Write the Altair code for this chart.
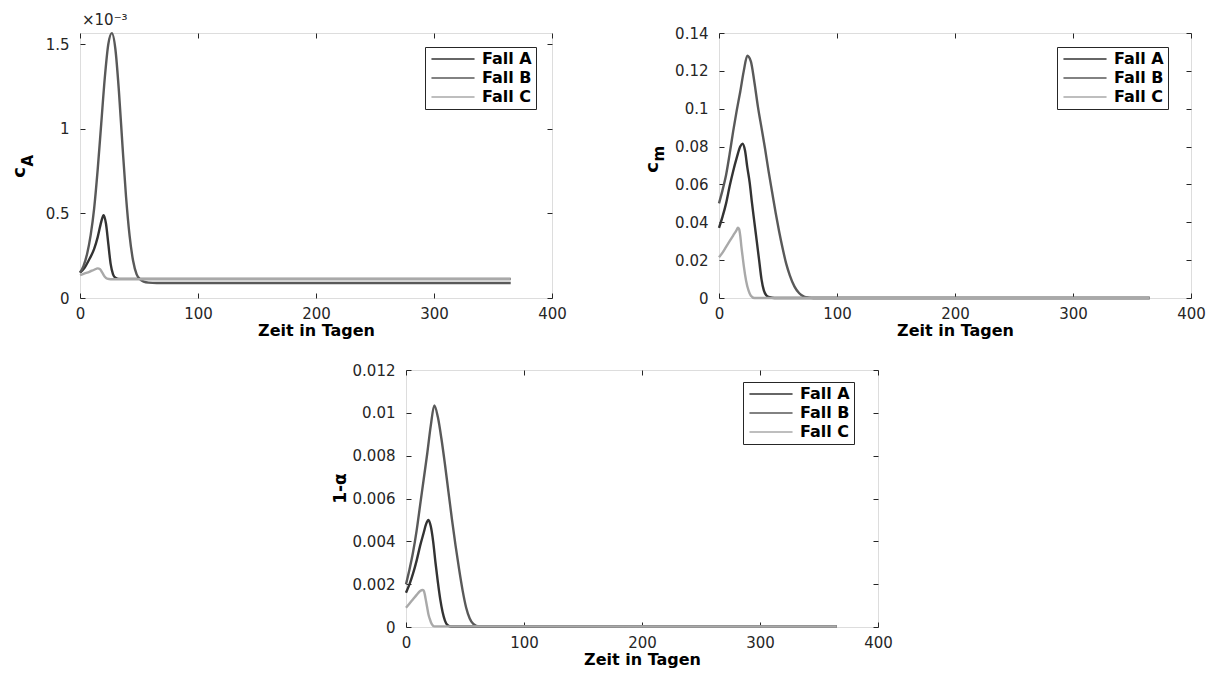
import altair as alt
import pandas as pd

# ---------------- data ----------------
CASES = ["Fall A", "Fall B", "Fall C"]
COLORS = ["#333333", "#595959", "#a9a9a9"]
X_TICKS = [0, 100, 200, 300, 400]

# Panel 1: c_A (values in units of 10^-3)
cA_ticks = [0, 0.5, 1, 1.5]
cA_A_t = [0, 4, 8, 12, 15, 18, 20, 22, 24, 26, 28, 30, 33, 40, 365]
cA_A_v = [0.15, 0.18, 0.23, 0.29, 0.36, 0.45, 0.49, 0.44, 0.32, 0.20, 0.14, 0.12, 0.113, 0.113, 0.113]
cA_B_t = [0, 3, 6, 9, 12, 15, 18, 21, 24, 27, 30, 33, 36, 39, 42, 45, 48, 51, 54, 58, 65, 365]
cA_B_v = [0.15, 0.19, 0.26, 0.37, 0.53, 0.76, 1.03, 1.30, 1.50, 1.565, 1.47, 1.22, 0.90, 0.60, 0.37,
          0.22, 0.14, 0.11, 0.097, 0.091, 0.089, 0.089]
cA_C_t = [0, 4, 8, 12, 15, 17, 19, 21, 23, 26, 365]
cA_C_v = [0.135, 0.145, 0.155, 0.167, 0.175, 0.17, 0.148, 0.125, 0.114, 0.111, 0.111]

# Panel 2: c_m
cm_ticks = [0, 0.02, 0.04, 0.06, 0.08, 0.1, 0.12, 0.14]
cm_A_t = [0, 3, 6, 9, 12, 15, 18, 20, 22, 24, 26, 28, 30, 32, 34, 36, 38, 40, 43, 47, 365]
cm_A_v = [0.037, 0.043, 0.050, 0.059, 0.067, 0.074, 0.080, 0.0815, 0.078, 0.069, 0.061, 0.050, 0.040,
          0.030, 0.020, 0.010, 0.004, 0.0015, 0.0004, 0, 0]
cm_B_t = [0, 3, 6, 9, 12, 15, 18, 21, 24, 27, 30, 33, 36, 39, 42, 45, 48, 51, 54, 57, 60, 64, 68, 72,
          76, 80, 365]
cm_B_v = [0.050, 0.057, 0.065, 0.076, 0.088, 0.099, 0.109, 0.120, 0.128, 0.125, 0.114, 0.101, 0.090,
          0.079, 0.067, 0.056, 0.045, 0.035, 0.026, 0.018, 0.012, 0.006, 0.0025, 0.0008, 0.0002, 0, 0]
cm_C_t = [0, 3, 6, 9, 12, 15, 16, 17, 18, 19, 20, 21, 23, 25, 27, 30, 365]
cm_C_v = [0.0215, 0.024, 0.027, 0.030, 0.033, 0.036, 0.0372, 0.0365, 0.033, 0.027, 0.022, 0.017,
          0.009, 0.004, 0.0012, 0, 0]

# Panel 3: 1-alpha
al_ticks = [0, 0.002, 0.004, 0.006, 0.008, 0.01, 0.012]
al_A_t = [0, 3, 6, 9, 12, 15, 17, 19, 21, 23, 25, 27, 29, 31, 33, 35, 38, 365]
al_A_v = [0.0016, 0.0020, 0.0025, 0.0031, 0.0038, 0.0044, 0.0048, 0.0050, 0.0047, 0.0040, 0.0030,
          0.0021, 0.0013, 0.0007, 0.0003, 0.0001, 0.00002, 0.00002]
al_B_t = [0, 3, 6, 9, 12, 15, 18, 21, 24, 27, 30, 33, 36, 39, 42, 45, 48, 51, 54, 57, 62, 365]
al_B_v = [0.0020, 0.0027, 0.0035, 0.0045, 0.0057, 0.0069, 0.0081, 0.0094, 0.01035, 0.0098, 0.0088,
          0.0076, 0.0063, 0.0050, 0.0038, 0.0027, 0.0017, 0.0009, 0.0004, 0.00015, 0.00003, 0.00003]
al_C_t = [0, 3, 6, 9, 12, 14, 15, 16, 17, 18, 19, 20, 22, 24, 365]
al_C_v = [0.0009, 0.0011, 0.0013, 0.0015, 0.00168, 0.00173, 0.0017, 0.0015, 0.0012, 0.0009, 0.0006,
          0.0004, 0.00012, 0.00003, 0.00002]

# ---------------- helpers ----------------
FONT = "DejaVu Sans"
W = 472
H1, H3 = 265, 257
ONE = pd.DataFrame({"k": [0]})
LABEL_STYLE = dict(labelFont=FONT, labelFontSize=15, labelColor="#262626", labelFlush=False,
                   tickColor="#262626", tickWidth=1, tickSize=5, offset=-5, domain=False, grid=False)


def build_df(ts_list, vs_list):
    rows = []
    for case, ts, vs in zip(CASES, ts_list, vs_list):
        for t, v in zip(ts, vs):
            rows.append({"t": t, "v": v, "case": case})
    return pd.DataFrame(rows)


def legend(lx, ly):
    return alt.Legend(
        title=None, orient="none", legendX=lx, legendY=ly, padding=4,
        strokeColor="#262626", fillColor="white", cornerRadius=0, rowPadding=3,
        symbolType="M-4,0H4", symbolSize=116, symbolStrokeWidth=1.5,
        symbolOffset=16, labelOffset=21,
        labelFont=FONT, labelFontSize=16, labelFontWeight="bold", labelColor="black",
    )


def title_text(text, size, x, y, align="center"):
    return alt.Chart(ONE).mark_text(
        text=text, angle=270, font=FONT, fontSize=size, fontWeight="bold",
        align=align, baseline="alphabetic", color="black",
    ).encode(x=alt.value(x), y=alt.value(y))


def panel(df, h, ydom, yticks, marks, lx, ly, top_title=None):
    xs = alt.Scale(domain=[0, 400], nice=False)
    ys = alt.Scale(domain=ydom, nice=False, zero=True)
    lines = alt.Chart(df).mark_line(strokeWidth=2.4, interpolate="monotone").encode(
        x=alt.X("t:Q", scale=xs, axis=alt.Axis(
            values=X_TICKS, title="Zeit in Tagen", labelPadding=8, titlePadding=1,
            titleFont=FONT, titleFontSize=16, titleFontWeight="bold", titleColor="black",
            **LABEL_STYLE)),
        y=alt.Y("v:Q", scale=ys, axis=alt.Axis(
            values=yticks, format="~g", title=None, labelPadding=11, **LABEL_STYLE)),
        color=alt.Color("case:N", scale=alt.Scale(domain=CASES, range=COLORS), legend=legend(lx, ly)),
    )
    ghost = alt.Chart(df).mark_line(strokeOpacity=0).encode(
        x=alt.X("t:Q", axis=alt.Axis(orient="top", values=X_TICKS, labels=False, title=None,
                                     **LABEL_STYLE)),
        y=alt.Y("v:Q", axis=alt.Axis(orient="right", values=yticks, labels=False, title=None,
                                     **LABEL_STYLE)),
        detail="case:N",
    )
    layered = alt.layer(lines, ghost, *marks).resolve_axis(x="independent", y="independent")
    if top_title is not None:
        return layered.properties(
            width=W, height=h,
            title=alt.TitleParams(top_title, anchor="start", frame="group", dx=2, offset=0,
                                  font=FONT, fontSize=15, fontWeight="normal", color="#262626"),
        )
    return layered.properties(width=W, height=h)


df1 = build_df([cA_A_t, cA_B_t, cA_C_t], [cA_A_v, cA_B_v, cA_C_v])
df2 = build_df([cm_A_t, cm_B_t, cm_C_t], [cm_A_v, cm_B_v, cm_C_v])
df3 = build_df([al_A_t, al_B_t, al_C_t], [al_A_v, al_B_v, al_C_v])

p1 = panel(df1, H1, [0, 1.566], cA_ticks,
           [title_text("c", 18, -55, H1 / 2 + 7), title_text("A", 15, -47, H1 / 2 + 1, align="left")],
           345, 14, "×10⁻³")
p2 = panel(df2, H1, [0, 0.14], cm_ticks,
           [title_text("c", 18, -61, H1 / 2 + 2), title_text("m", 15, -55, H1 / 2 - 4, align="left")],
           338, 14, " ")
p3 = panel(df3, H3, [0, 0.012], al_ticks,
           [title_text("1-α", 17, -60, H3 / 2 - 10)],
           337, 12)

spacer = alt.Chart(ONE).mark_point(opacity=0, size=1).encode(
    x=alt.value(5), y=alt.value(5)
).properties(width=251, height=H3, view=alt.ViewBackground(strokeOpacity=0))

row1 = alt.hconcat(p1, p2, spacing=76).resolve_legend(color="independent").resolve_scale(color="independent")
row2 = alt.hconcat(spacer, p3, spacing=0).resolve_legend(color="independent").resolve_scale(color="independent")

chart = alt.vconcat(row1, row2, spacing=23).resolve_legend(color="independent").resolve_scale(
    color="independent"
).properties(
    padding={"left": 2, "top": 2, "right": 0, "bottom": 0}
).configure_view(
    stroke="#262626", strokeWidth=1
).configure(background="white")

chart.save("out.html", embed_options={"renderer": "svg", "actions": False})
